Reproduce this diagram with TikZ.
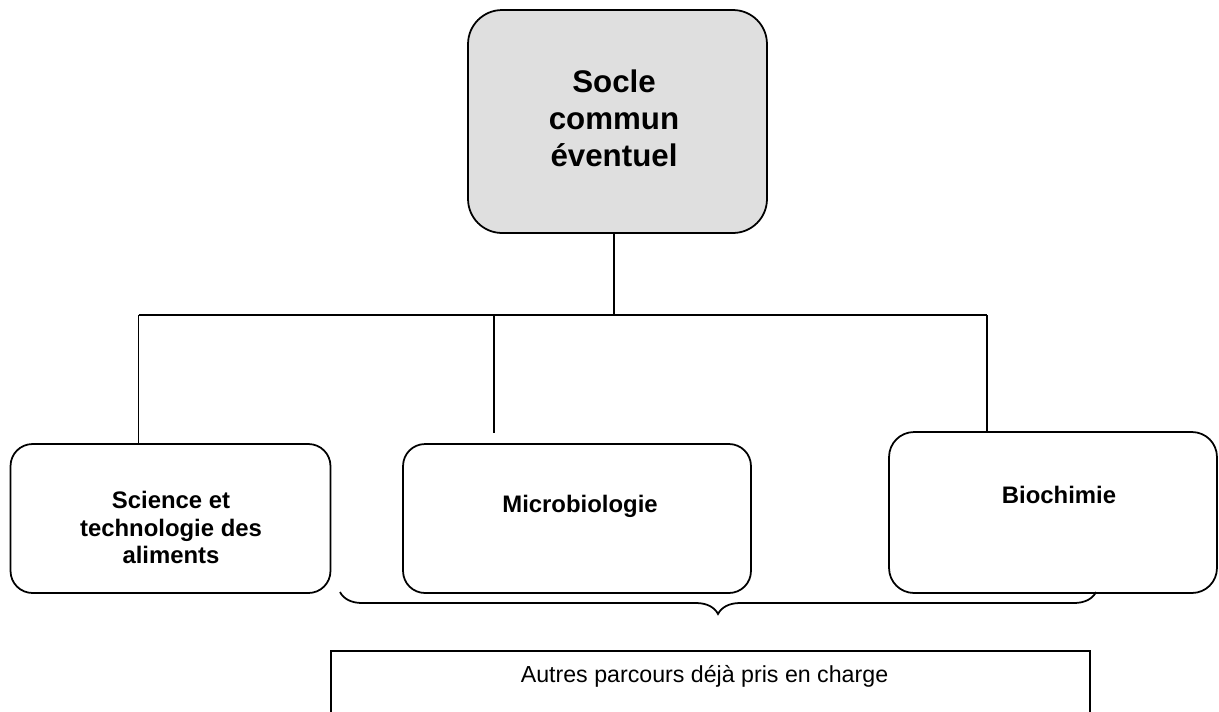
\documentclass[tikz,border=0pt]{standalone}
\usepackage{fontspec}
\setmainfont{Liberation Sans}
\usetikzlibrary{decorations.pathreplacing}
\definecolor{soclegray}{HTML}{DFDFDF}
\tikzset{
  box/.style={draw, line width=1pt, rounded corners=0.44cm},
  txt/.style={align=center, font=\bfseries\fontsize{13.6}{15.9}\selectfont},
  link/.style={line width=1pt}
}
\begin{document}
\begin{tikzpicture}[x=0.02cm,y=-0.02cm]
        \useasboundingbox (0,0) rectangle (1219,711);
        \clip (0,0) rectangle (1219,711);
        % boxes
        \node[box, fill=soclegray, rounded corners=0.68cm, minimum width=5.98cm, minimum height=4.46cm] (socle) at (617.5,121.5) {};
        \node[box, minimum width=6.4cm, minimum height=2.98cm] (sta) at (170.5,518.5) {};
        \node[box, minimum width=6.96cm, minimum height=2.98cm] (micro) at (577,518.5) {};
        \node[box, minimum width=6.56cm, minimum height=3.22cm, rounded corners=0.5cm] (bio) at (1053,512.5) {};
        \node[draw, line width=1pt, minimum width=15.18cm, minimum height=2.2cm] (autres) at (710.5,706) {};
        % texts
        \node[txt, font=\bfseries\fontsize{17.8}{21.2}\selectfont] (soclet) at (614,118.5) {Socle\\commun\\éventuel};
        \node[txt] (stat) at (171,527.5) {Science et\\technologie des\\aliments};
        \node[txt, anchor=base] (microt) at (580,512) {Microbiologie};
        \node[txt, anchor=base] (biot) at (1059,503) {Biochimie};
        \node[anchor=base, font=\fontsize{13.2}{15}\selectfont] (autrest) at (704.5,682) {Autres parcours déjà pris en charge};
        % tree
        \coordinate (hub) at (614,315);
        \coordinate (left) at (138.5,315);
        \coordinate (mid) at (494,315);
        \coordinate (right) at (987,315);
        \draw[link] (hub |- socle.south) -- (hub);
        \draw[link] (left) -- (right);
        \draw[link] (left) -- (left |- sta.north);
        \draw[link] (mid) -- (494,432.5);
        \draw[link] (right) -- (right |- bio.north);
        % brace
        \draw[line width=1pt, decorate, decoration={brace, amplitude=0.44cm}] (1096,592) -- (340,592);
    \end{tikzpicture}
\end{document}
